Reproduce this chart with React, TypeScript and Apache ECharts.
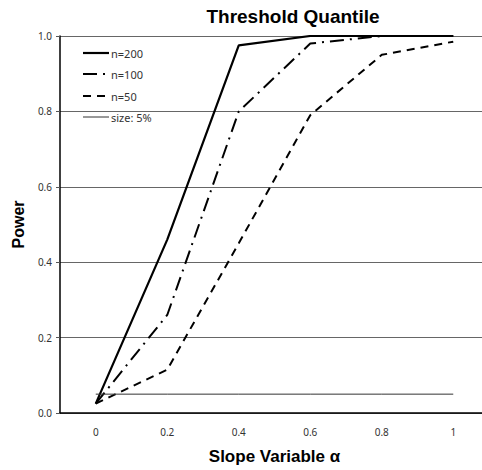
import React, { useEffect, useRef } from "react";
import * as echarts from "echarts";

const categories = ["0", "0.2", "0.4", "0.6", "0.8", "1"];
const n200 = [0.025, 0.46, 0.975, 1.0, 1.0, 1.0];
const n100 = [0.025, 0.26, 0.8, 0.98, 1.0, 1.0];
const n50 = [0.025, 0.115, 0.45, 0.79, 0.95, 0.985];
const size5 = [0.05, 0.05, 0.05, 0.05, 0.05, 0.05];
const legendNames = ["n=200", "n=100", "n=50", "size: 5%"];

export default function App() {
  const ref = useRef<HTMLDivElement>(null);
  useEffect(() => {
    document.body.style.margin = "0";
    document.body.style.overflow = "hidden";
    const chart = echarts.init(ref.current!, undefined, { renderer: "svg" });
    const labelFont = "Noto Sans";
    const styles = [
      { color: "#000", width: 2.2, type: "solid" as any },
      { color: "#000", width: 2, type: [14, 6, 2, 6] as any },
      { color: "#000", width: 2, type: [8, 6] as any },
      { color: "#333", width: 1, type: "solid" as any },
    ];
    const dataSets = [n200, n100, n50, size5];
    const legendY = [53, 74, 96, 117];
    const graphics: any[] = [];
    legendNames.forEach((name, i) => {
      const s = styles[i];
      graphics.push({
        type: "line",
        shape: { x1: 83, y1: legendY[i], x2: 109, y2: legendY[i] },
        style: {
          stroke: s.color,
          lineWidth: s.width,
          lineDash: Array.isArray(s.type) ? s.type : null,
        },
      });
      graphics.push({
        type: "text",
        x: 111,
        y: legendY[i],
        style: {
          text: name,
          fontFamily: labelFont,
          fontSize: 11,
          fill: "#333",
          textVerticalAlign: "middle",
          verticalAlign: "middle",
        },
      });
    });
    chart.setOption({
      animation: false,
      backgroundColor: "#fff",
      title: {
        text: "Threshold Quantile",
        left: 288,
        top: 2,
        textAlign: "center",
        textStyle: { fontFamily: "Liberation Sans", fontWeight: "bold", fontSize: 19, color: "#000" },
      },
      grid: { left: 60, top: 36, width: 429, height: 377 },
      graphic: graphics,
      xAxis: {
        type: "category",
        data: categories,
        boundaryGap: true,
        name: "Slope Variable α",
        nameLocation: "middle",
        nameGap: 35,
        nameTextStyle: { fontFamily: "Liberation Sans", fontWeight: "bold", fontSize: 17, color: "#000" },
        axisLine: { lineStyle: { color: "#000", width: 1.5 } },
        axisTick: { show: false },
        axisLabel: { fontFamily: labelFont, fontSize: 10, color: "#333", margin: 14 },
      },
      yAxis: {
        type: "value",
        min: 0,
        max: 1,
        interval: 0.2,
        name: "Power",
        nameLocation: "middle",
        nameGap: 25,
        nameTextStyle: { fontFamily: "Liberation Sans", fontWeight: "bold", fontSize: 16, color: "#000" },
        axisLine: { show: true, lineStyle: { color: "#000", width: 1.5 } },
        axisTick: { show: true, length: 4, lineStyle: { color: "#555" } },
        axisLabel: {
          fontFamily: labelFont,
          fontSize: 10,
          color: "#333",
          margin: 8,
          formatter: (v: number) => v.toFixed(1),
        },
        splitLine: { show: true, lineStyle: { color: "#666", width: 1 } },
      },
      series: legendNames.map((name, i) => ({
        name,
        type: "line",
        data: dataSets[i],
        symbol: "none",
        lineStyle: styles[i],
        itemStyle: { color: styles[i].color },
      })),
    });
    return () => chart.dispose();
  }, []);
  return (
    <div
      ref={ref}
      style={{ position: "fixed", left: 0, top: 0, width: 500, height: 470 }}
    />
  );
}
